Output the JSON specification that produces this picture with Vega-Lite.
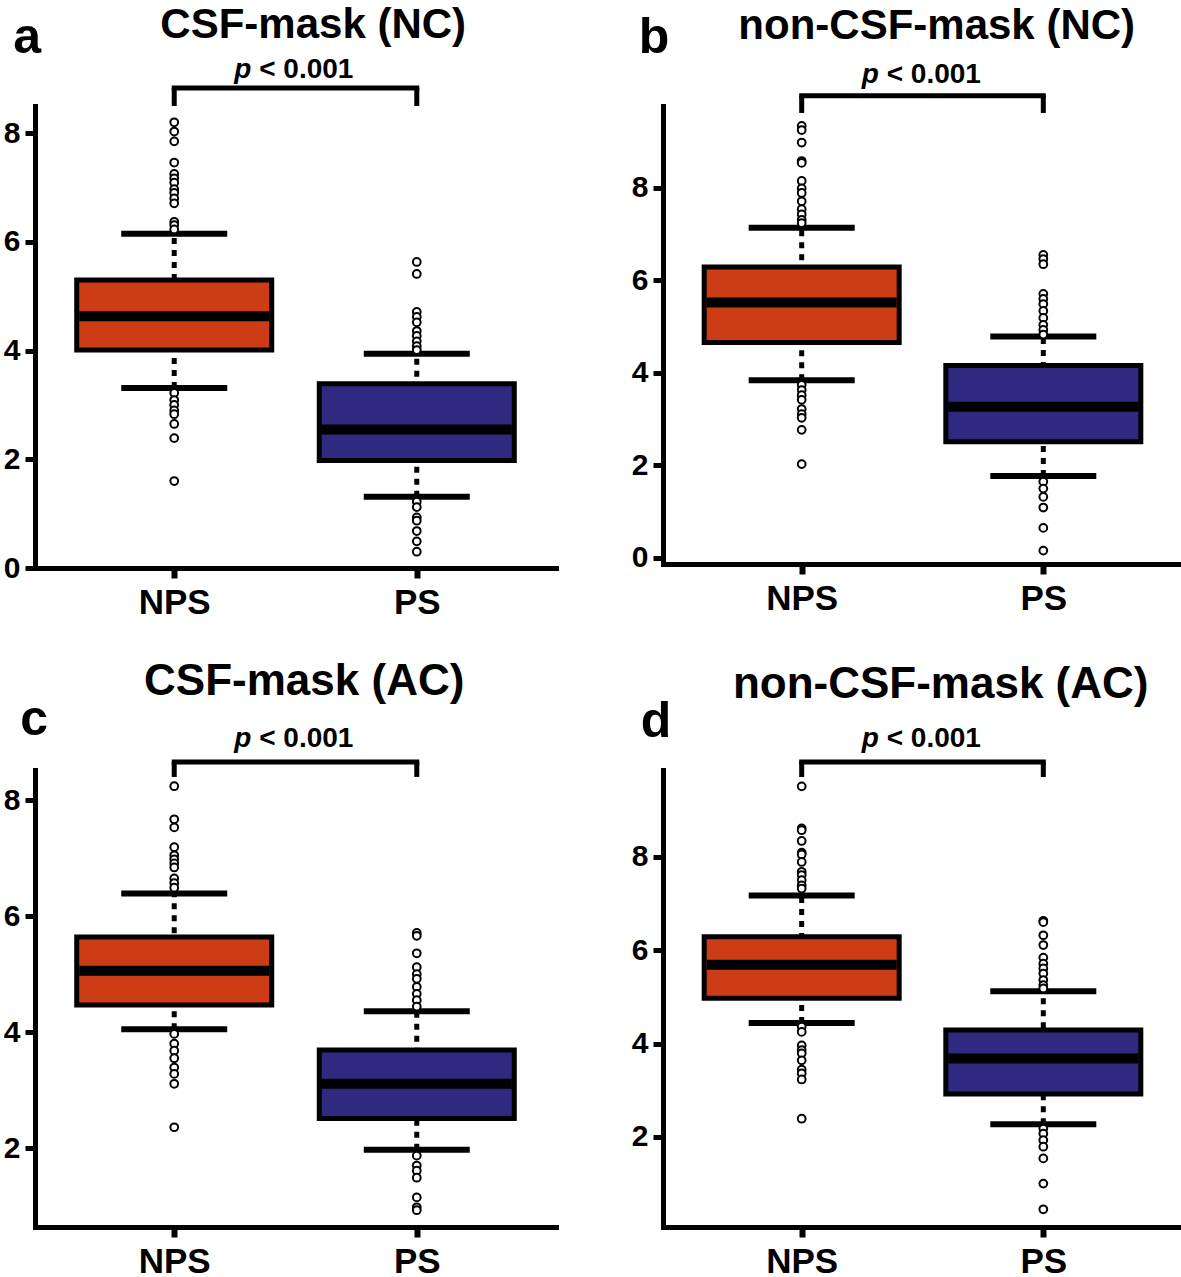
{
"$schema":"https://vega.github.io/schema/vega-lite/v6.json",
"padding":{"left":3,"top":4,"right":0,"bottom":0},
"bounds":"flush",
"columns":2,
"spacing":{"row":202,"column":107},
"datasets":{
"note":[{"label":"p < 0.001"}],
"stats":[
{"panel":"a","group":"NPS","lower":3.31,"q1":4.01,"median":4.63,"q3":5.30,"upper":6.15},
{"panel":"a","group":"PS","lower":1.31,"q1":1.98,"median":2.55,"q3":3.39,"upper":3.94},
{"panel":"b","group":"NPS","lower":3.84,"q1":4.66,"median":5.52,"q3":6.29,"upper":7.14},
{"panel":"b","group":"PS","lower":1.77,"q1":2.51,"median":3.27,"q3":4.16,"upper":4.79},
{"panel":"c","group":"NPS","lower":4.05,"q1":4.47,"median":5.06,"q3":5.64,"upper":6.39},
{"panel":"c","group":"PS","lower":1.97,"q1":2.51,"median":3.11,"q3":3.69,"upper":4.36},
{"panel":"d","group":"NPS","lower":4.44,"q1":4.97,"median":5.69,"q3":6.29,"upper":7.17},
{"panel":"d","group":"PS","lower":2.27,"q1":2.92,"median":3.68,"q3":4.29,"upper":5.12}
],
"outliers":[
{"panel":"a","group":"NPS","value":8.20},{"panel":"a","group":"NPS","value":8.03},{"panel":"a","group":"NPS","value":7.85},{"panel":"a","group":"NPS","value":7.46},{"panel":"a","group":"NPS","value":7.25},{"panel":"a","group":"NPS","value":7.17},{"panel":"a","group":"NPS","value":7.09},{"panel":"a","group":"NPS","value":6.97},{"panel":"a","group":"NPS","value":6.90},{"panel":"a","group":"NPS","value":6.80},{"panel":"a","group":"NPS","value":6.71},{"panel":"a","group":"NPS","value":6.37},{"panel":"a","group":"NPS","value":6.31},{"panel":"a","group":"NPS","value":6.23},{"panel":"a","group":"NPS","value":3.22},{"panel":"a","group":"NPS","value":3.09},{"panel":"a","group":"NPS","value":3.00},{"panel":"a","group":"NPS","value":2.90},{"panel":"a","group":"NPS","value":2.83},{"panel":"a","group":"NPS","value":2.65},{"panel":"a","group":"NPS","value":2.39},{"panel":"a","group":"NPS","value":1.60},
{"panel":"a","group":"PS","value":5.63},{"panel":"a","group":"PS","value":5.41},{"panel":"a","group":"PS","value":4.71},{"panel":"a","group":"PS","value":4.62},{"panel":"a","group":"PS","value":4.52},{"panel":"a","group":"PS","value":4.36},{"panel":"a","group":"PS","value":4.27},{"panel":"a","group":"PS","value":4.17},{"panel":"a","group":"PS","value":4.08},{"panel":"a","group":"PS","value":4.01},{"panel":"a","group":"PS","value":1.22},{"panel":"a","group":"PS","value":1.12},{"panel":"a","group":"PS","value":0.93},{"panel":"a","group":"PS","value":0.87},{"panel":"a","group":"PS","value":0.68},{"panel":"a","group":"PS","value":0.49},{"panel":"a","group":"PS","value":0.30},
{"panel":"b","group":"NPS","value":9.34},{"panel":"b","group":"NPS","value":9.25},{"panel":"b","group":"NPS","value":8.98},{"panel":"b","group":"NPS","value":8.58},{"panel":"b","group":"NPS","value":8.54},{"panel":"b","group":"NPS","value":8.15},{"panel":"b","group":"NPS","value":7.99},{"panel":"b","group":"NPS","value":7.89},{"panel":"b","group":"NPS","value":7.71},{"panel":"b","group":"NPS","value":7.54},{"panel":"b","group":"NPS","value":7.43},{"panel":"b","group":"NPS","value":7.31},{"panel":"b","group":"NPS","value":7.24},{"panel":"b","group":"NPS","value":3.74},{"panel":"b","group":"NPS","value":3.63},{"panel":"b","group":"NPS","value":3.52},{"panel":"b","group":"NPS","value":3.42},{"panel":"b","group":"NPS","value":3.22},{"panel":"b","group":"NPS","value":3.11},{"panel":"b","group":"NPS","value":3.03},{"panel":"b","group":"NPS","value":2.77},{"panel":"b","group":"NPS","value":2.03},
{"panel":"b","group":"PS","value":6.55},{"panel":"b","group":"PS","value":6.46},{"panel":"b","group":"PS","value":6.35},{"panel":"b","group":"PS","value":5.71},{"panel":"b","group":"PS","value":5.60},{"panel":"b","group":"PS","value":5.49},{"panel":"b","group":"PS","value":5.34},{"panel":"b","group":"PS","value":5.19},{"panel":"b","group":"PS","value":5.04},{"panel":"b","group":"PS","value":4.93},{"panel":"b","group":"PS","value":4.83},{"panel":"b","group":"PS","value":1.65},{"panel":"b","group":"PS","value":1.50},{"panel":"b","group":"PS","value":1.32},{"panel":"b","group":"PS","value":1.09},{"panel":"b","group":"PS","value":0.65},{"panel":"b","group":"PS","value":0.16},
{"panel":"c","group":"NPS","value":8.24},{"panel":"c","group":"NPS","value":7.67},{"panel":"c","group":"NPS","value":7.53},{"panel":"c","group":"NPS","value":7.19},{"panel":"c","group":"NPS","value":7.05},{"panel":"c","group":"NPS","value":6.98},{"panel":"c","group":"NPS","value":6.91},{"panel":"c","group":"NPS","value":6.84},{"panel":"c","group":"NPS","value":6.65},{"panel":"c","group":"NPS","value":6.57},{"panel":"c","group":"NPS","value":6.49},{"panel":"c","group":"NPS","value":3.97},{"panel":"c","group":"NPS","value":3.80},{"panel":"c","group":"NPS","value":3.68},{"panel":"c","group":"NPS","value":3.55},{"panel":"c","group":"NPS","value":3.39},{"panel":"c","group":"NPS","value":3.28},{"panel":"c","group":"NPS","value":3.11},{"panel":"c","group":"NPS","value":2.36},
{"panel":"c","group":"PS","value":5.71},{"panel":"c","group":"PS","value":5.66},{"panel":"c","group":"PS","value":5.36},{"panel":"c","group":"PS","value":5.12},{"panel":"c","group":"PS","value":5.00},{"panel":"c","group":"PS","value":4.92},{"panel":"c","group":"PS","value":4.78},{"panel":"c","group":"PS","value":4.66},{"panel":"c","group":"PS","value":4.55},{"panel":"c","group":"PS","value":4.44},{"panel":"c","group":"PS","value":1.87},{"panel":"c","group":"PS","value":1.70},{"panel":"c","group":"PS","value":1.61},{"panel":"c","group":"PS","value":1.49},{"panel":"c","group":"PS","value":1.15},{"panel":"c","group":"PS","value":0.98},{"panel":"c","group":"PS","value":0.93},
{"panel":"d","group":"NPS","value":9.51},{"panel":"d","group":"NPS","value":8.61},{"panel":"d","group":"NPS","value":8.57},{"panel":"d","group":"NPS","value":8.34},{"panel":"d","group":"NPS","value":8.09},{"panel":"d","group":"NPS","value":8.05},{"panel":"d","group":"NPS","value":7.89},{"panel":"d","group":"NPS","value":7.68},{"panel":"d","group":"NPS","value":7.61},{"panel":"d","group":"NPS","value":7.50},{"panel":"d","group":"NPS","value":7.39},{"panel":"d","group":"NPS","value":7.32},{"panel":"d","group":"NPS","value":4.36},{"panel":"d","group":"NPS","value":4.25},{"panel":"d","group":"NPS","value":3.96},{"panel":"d","group":"NPS","value":3.86},{"panel":"d","group":"NPS","value":3.79},{"panel":"d","group":"NPS","value":3.64},{"panel":"d","group":"NPS","value":3.44},{"panel":"d","group":"NPS","value":3.36},{"panel":"d","group":"NPS","value":3.23},{"panel":"d","group":"NPS","value":2.39},
{"panel":"d","group":"PS","value":6.63},{"panel":"d","group":"PS","value":6.60},{"panel":"d","group":"PS","value":6.32},{"panel":"d","group":"PS","value":6.11},{"panel":"d","group":"PS","value":5.84},{"panel":"d","group":"PS","value":5.71},{"panel":"d","group":"PS","value":5.61},{"panel":"d","group":"PS","value":5.50},{"panel":"d","group":"PS","value":5.36},{"panel":"d","group":"PS","value":5.25},{"panel":"d","group":"PS","value":5.18},{"panel":"d","group":"PS","value":2.18},{"panel":"d","group":"PS","value":2.07},{"panel":"d","group":"PS","value":1.93},{"panel":"d","group":"PS","value":1.79},{"panel":"d","group":"PS","value":1.54},{"panel":"d","group":"PS","value":1.00},{"panel":"d","group":"PS","value":0.45}
]
},
"concat":[
{"width":521,"height":462,
"encoding":{"x":{"field":"group","type":"nominal","scale":{"type":"point","domain":["NPS","PS"]},"axis":{"title":null}}},
"layer":[
{"data":{"name":"stats"},"transform":[{"filter":"datum.panel==='a'"}],"mark":{"type":"rule","color":"black","strokeWidth":5,"strokeDash":[6,6]},"encoding":{"y":{"field":"lower","type":"quantitative","scale":{"domain":[0,8.5],"nice":false,"zero":false},"axis":{"title":null,"values":[0,2,4,6,8]}},"y2":{"field":"upper"}}},
{"data":{"name":"stats"},"transform":[{"filter":"datum.panel==='a'"}],"mark":{"type":"tick","color":"black","size":106,"thickness":6,"opacity":1},"encoding":{"y":{"field":"lower","type":"quantitative","scale":{"domain":[0,8.5],"nice":false,"zero":false},"axis":{"title":null,"values":[0,2,4,6,8]}}}},
{"data":{"name":"stats"},"transform":[{"filter":"datum.panel==='a'"}],"mark":{"type":"tick","color":"black","size":106,"thickness":6,"opacity":1},"encoding":{"y":{"field":"upper","type":"quantitative","scale":{"domain":[0,8.5],"nice":false,"zero":false},"axis":{"title":null,"values":[0,2,4,6,8]}}}},
{"data":{"name":"stats"},"transform":[{"filter":"datum.panel==='a'"}],"mark":{"type":"bar","width":195,"stroke":"black","strokeWidth":5},"encoding":{"y":{"field":"q1","type":"quantitative","scale":{"domain":[0,8.5],"nice":false,"zero":false},"axis":{"title":null,"values":[0,2,4,6,8]}},"y2":{"field":"q3"},"color":{"field":"group","type":"nominal","scale":{"domain":["NPS","PS"],"range":["#CD3D15","#2F2A80"]},"legend":null}}},
{"data":{"name":"stats"},"transform":[{"filter":"datum.panel==='a'"}],"mark":{"type":"tick","color":"black","size":190,"thickness":10,"opacity":1},"encoding":{"y":{"field":"median","type":"quantitative","scale":{"domain":[0,8.5],"nice":false,"zero":false},"axis":{"title":null,"values":[0,2,4,6,8]}}}},
{"data":{"name":"outliers"},"transform":[{"filter":"datum.panel==='a'"}],"mark":{"type":"point","shape":"circle","size":60,"fill":"white","stroke":"black","strokeWidth":2,"opacity":1},"encoding":{"y":{"field":"value","type":"quantitative","scale":{"domain":[0,8.5],"nice":false,"zero":false},"axis":{"title":null,"values":[0,2,4,6,8]}}}},
{"data":{"name":"note"},"mark":{"type":"rule","color":"black","strokeWidth":5,"strokeCap":"square"},"encoding":{"x":{"datum":"NPS","type":"nominal"},"x2":{"datum":"PS"},"y":{"datum":8.83,"type":"quantitative","scale":{"domain":[0,8.5],"nice":false,"zero":false},"axis":{"title":null,"values":[0,2,4,6,8]}}}},
{"data":{"name":"note"},"mark":{"type":"rule","color":"black","strokeWidth":5},"encoding":{"x":{"datum":"NPS","type":"nominal"},"y":{"datum":8.83,"type":"quantitative","scale":{"domain":[0,8.5],"nice":false,"zero":false},"axis":{"title":null,"values":[0,2,4,6,8]}},"y2":{"datum":8.5}}},
{"data":{"name":"note"},"mark":{"type":"rule","color":"black","strokeWidth":5},"encoding":{"x":{"datum":"PS","type":"nominal"},"y":{"datum":8.83,"type":"quantitative","scale":{"domain":[0,8.5],"nice":false,"zero":false},"axis":{"title":null,"values":[0,2,4,6,8]}},"y2":{"datum":8.5}}},
{"data":{"name":"note"},"mark":{"type":"text","text":"p","fontSize":28,"fontWeight":"bold","fontStyle":"italic","align":"left","baseline":"alphabetic","dx":60,"color":"black"},"encoding":{"x":{"datum":"NPS","type":"nominal"},"y":{"datum":9.01,"type":"quantitative","scale":{"domain":[0,8.5],"nice":false,"zero":false},"axis":{"title":null,"values":[0,2,4,6,8]}}}},
{"data":{"name":"note"},"mark":{"type":"text","text":"< 0.001","fontSize":28,"fontWeight":"bold","align":"left","baseline":"alphabetic","dx":85,"color":"black"},"encoding":{"x":{"datum":"NPS","type":"nominal"},"y":{"datum":9.01,"type":"quantitative","scale":{"domain":[0,8.5],"nice":false,"zero":false},"axis":{"title":null,"values":[0,2,4,6,8]}}}},
{"data":{"name":"note"},"mark":{"type":"text","text":"CSF-mask (NC)","fontSize":42,"fontWeight":"bold","align":"center","baseline":"alphabetic","dx":139,"color":"black"},"encoding":{"x":{"datum":"NPS","type":"nominal"},"y":{"datum":9.75,"type":"quantitative","scale":{"domain":[0,8.5],"nice":false,"zero":false},"axis":{"title":null,"values":[0,2,4,6,8]}}}},
{"data":{"name":"note"},"mark":{"type":"text","text":"a","fontSize":50,"fontWeight":"bold","align":"left","baseline":"alphabetic","dx":-161,"color":"black"},"encoding":{"x":{"datum":"NPS","type":"nominal"},"y":{"datum":9.47,"type":"quantitative","scale":{"domain":[0,8.5],"nice":false,"zero":false},"axis":{"title":null,"values":[0,2,4,6,8]}}}}
]},
{"width":519,"height":458,
"encoding":{"x":{"field":"group","type":"nominal","scale":{"type":"point","domain":["NPS","PS"]},"axis":{"title":null}}},
"layer":[
{"data":{"name":"stats"},"transform":[{"filter":"datum.panel==='b'"}],"mark":{"type":"rule","color":"black","strokeWidth":5,"strokeDash":[6,6]},"encoding":{"y":{"field":"lower","type":"quantitative","scale":{"domain":[-0.13,9.77],"nice":false,"zero":false},"axis":{"title":null,"values":[0,2,4,6,8]}},"y2":{"field":"upper"}}},
{"data":{"name":"stats"},"transform":[{"filter":"datum.panel==='b'"}],"mark":{"type":"tick","color":"black","size":106,"thickness":6,"opacity":1},"encoding":{"y":{"field":"lower","type":"quantitative","scale":{"domain":[-0.13,9.77],"nice":false,"zero":false},"axis":{"title":null,"values":[0,2,4,6,8]}}}},
{"data":{"name":"stats"},"transform":[{"filter":"datum.panel==='b'"}],"mark":{"type":"tick","color":"black","size":106,"thickness":6,"opacity":1},"encoding":{"y":{"field":"upper","type":"quantitative","scale":{"domain":[-0.13,9.77],"nice":false,"zero":false},"axis":{"title":null,"values":[0,2,4,6,8]}}}},
{"data":{"name":"stats"},"transform":[{"filter":"datum.panel==='b'"}],"mark":{"type":"bar","width":195,"stroke":"black","strokeWidth":5},"encoding":{"y":{"field":"q1","type":"quantitative","scale":{"domain":[-0.13,9.77],"nice":false,"zero":false},"axis":{"title":null,"values":[0,2,4,6,8]}},"y2":{"field":"q3"},"color":{"field":"group","type":"nominal","scale":{"domain":["NPS","PS"],"range":["#CD3D15","#2F2A80"]},"legend":null}}},
{"data":{"name":"stats"},"transform":[{"filter":"datum.panel==='b'"}],"mark":{"type":"tick","color":"black","size":190,"thickness":10,"opacity":1},"encoding":{"y":{"field":"median","type":"quantitative","scale":{"domain":[-0.13,9.77],"nice":false,"zero":false},"axis":{"title":null,"values":[0,2,4,6,8]}}}},
{"data":{"name":"outliers"},"transform":[{"filter":"datum.panel==='b'"}],"mark":{"type":"point","shape":"circle","size":60,"fill":"white","stroke":"black","strokeWidth":2,"opacity":1},"encoding":{"y":{"field":"value","type":"quantitative","scale":{"domain":[-0.13,9.77],"nice":false,"zero":false},"axis":{"title":null,"values":[0,2,4,6,8]}}}},
{"data":{"name":"note"},"mark":{"type":"rule","color":"black","strokeWidth":5,"strokeCap":"square"},"encoding":{"x":{"datum":"NPS","type":"nominal"},"x2":{"datum":"PS"},"y":{"datum":9.99,"type":"quantitative","scale":{"domain":[-0.13,9.77],"nice":false,"zero":false},"axis":{"title":null,"values":[0,2,4,6,8]}}}},
{"data":{"name":"note"},"mark":{"type":"rule","color":"black","strokeWidth":5},"encoding":{"x":{"datum":"NPS","type":"nominal"},"y":{"datum":9.99,"type":"quantitative","scale":{"domain":[-0.13,9.77],"nice":false,"zero":false},"axis":{"title":null,"values":[0,2,4,6,8]}},"y2":{"datum":9.62}}},
{"data":{"name":"note"},"mark":{"type":"rule","color":"black","strokeWidth":5},"encoding":{"x":{"datum":"PS","type":"nominal"},"y":{"datum":9.99,"type":"quantitative","scale":{"domain":[-0.13,9.77],"nice":false,"zero":false},"axis":{"title":null,"values":[0,2,4,6,8]}},"y2":{"datum":9.62}}},
{"data":{"name":"note"},"mark":{"type":"text","text":"p","fontSize":28,"fontWeight":"bold","fontStyle":"italic","align":"left","baseline":"alphabetic","dx":60,"color":"black"},"encoding":{"x":{"datum":"NPS","type":"nominal"},"y":{"datum":10.27,"type":"quantitative","scale":{"domain":[-0.13,9.77],"nice":false,"zero":false},"axis":{"title":null,"values":[0,2,4,6,8]}}}},
{"data":{"name":"note"},"mark":{"type":"text","text":"< 0.001","fontSize":28,"fontWeight":"bold","align":"left","baseline":"alphabetic","dx":85,"color":"black"},"encoding":{"x":{"datum":"NPS","type":"nominal"},"y":{"datum":10.27,"type":"quantitative","scale":{"domain":[-0.13,9.77],"nice":false,"zero":false},"axis":{"title":null,"values":[0,2,4,6,8]}}}},
{"data":{"name":"note"},"mark":{"type":"text","text":"non-CSF-mask (NC)","fontSize":42,"fontWeight":"bold","align":"center","baseline":"alphabetic","dx":135,"color":"black"},"encoding":{"x":{"datum":"NPS","type":"nominal"},"y":{"datum":11.22,"type":"quantitative","scale":{"domain":[-0.13,9.77],"nice":false,"zero":false},"axis":{"title":null,"values":[0,2,4,6,8]}}}},
{"data":{"name":"note"},"mark":{"type":"text","text":"b","fontSize":50,"fontWeight":"bold","align":"left","baseline":"alphabetic","dx":-163,"color":"black"},"encoding":{"x":{"datum":"NPS","type":"nominal"},"y":{"datum":10.92,"type":"quantitative","scale":{"domain":[-0.13,9.77],"nice":false,"zero":false},"axis":{"title":null,"values":[0,2,4,6,8]}}}}
]},
{"width":521,"height":457,
"encoding":{"x":{"field":"group","type":"nominal","scale":{"type":"point","domain":["NPS","PS"]},"axis":{"title":null}}},
"layer":[
{"data":{"name":"stats"},"transform":[{"filter":"datum.panel==='c'"}],"mark":{"type":"rule","color":"black","strokeWidth":5,"strokeDash":[6,6]},"encoding":{"y":{"field":"lower","type":"quantitative","scale":{"domain":[0.64,8.52],"nice":false,"zero":false},"axis":{"title":null,"values":[0,2,4,6,8]}},"y2":{"field":"upper"}}},
{"data":{"name":"stats"},"transform":[{"filter":"datum.panel==='c'"}],"mark":{"type":"tick","color":"black","size":106,"thickness":6,"opacity":1},"encoding":{"y":{"field":"lower","type":"quantitative","scale":{"domain":[0.64,8.52],"nice":false,"zero":false},"axis":{"title":null,"values":[0,2,4,6,8]}}}},
{"data":{"name":"stats"},"transform":[{"filter":"datum.panel==='c'"}],"mark":{"type":"tick","color":"black","size":106,"thickness":6,"opacity":1},"encoding":{"y":{"field":"upper","type":"quantitative","scale":{"domain":[0.64,8.52],"nice":false,"zero":false},"axis":{"title":null,"values":[0,2,4,6,8]}}}},
{"data":{"name":"stats"},"transform":[{"filter":"datum.panel==='c'"}],"mark":{"type":"bar","width":195,"stroke":"black","strokeWidth":5},"encoding":{"y":{"field":"q1","type":"quantitative","scale":{"domain":[0.64,8.52],"nice":false,"zero":false},"axis":{"title":null,"values":[0,2,4,6,8]}},"y2":{"field":"q3"},"color":{"field":"group","type":"nominal","scale":{"domain":["NPS","PS"],"range":["#CD3D15","#2F2A80"]},"legend":null}}},
{"data":{"name":"stats"},"transform":[{"filter":"datum.panel==='c'"}],"mark":{"type":"tick","color":"black","size":190,"thickness":10,"opacity":1},"encoding":{"y":{"field":"median","type":"quantitative","scale":{"domain":[0.64,8.52],"nice":false,"zero":false},"axis":{"title":null,"values":[0,2,4,6,8]}}}},
{"data":{"name":"outliers"},"transform":[{"filter":"datum.panel==='c'"}],"mark":{"type":"point","shape":"circle","size":60,"fill":"white","stroke":"black","strokeWidth":2,"opacity":1},"encoding":{"y":{"field":"value","type":"quantitative","scale":{"domain":[0.64,8.52],"nice":false,"zero":false},"axis":{"title":null,"values":[0,2,4,6,8]}}}},
{"data":{"name":"note"},"mark":{"type":"rule","color":"black","strokeWidth":5,"strokeCap":"square"},"encoding":{"x":{"datum":"NPS","type":"nominal"},"x2":{"datum":"PS"},"y":{"datum":8.66,"type":"quantitative","scale":{"domain":[0.64,8.52],"nice":false,"zero":false},"axis":{"title":null,"values":[0,2,4,6,8]}}}},
{"data":{"name":"note"},"mark":{"type":"rule","color":"black","strokeWidth":5},"encoding":{"x":{"datum":"NPS","type":"nominal"},"y":{"datum":8.66,"type":"quantitative","scale":{"domain":[0.64,8.52],"nice":false,"zero":false},"axis":{"title":null,"values":[0,2,4,6,8]}},"y2":{"datum":8.40}}},
{"data":{"name":"note"},"mark":{"type":"rule","color":"black","strokeWidth":5},"encoding":{"x":{"datum":"PS","type":"nominal"},"y":{"datum":8.66,"type":"quantitative","scale":{"domain":[0.64,8.52],"nice":false,"zero":false},"axis":{"title":null,"values":[0,2,4,6,8]}},"y2":{"datum":8.40}}},
{"data":{"name":"note"},"mark":{"type":"text","text":"p","fontSize":28,"fontWeight":"bold","fontStyle":"italic","align":"left","baseline":"alphabetic","dx":60,"color":"black"},"encoding":{"x":{"datum":"NPS","type":"nominal"},"y":{"datum":8.92,"type":"quantitative","scale":{"domain":[0.64,8.52],"nice":false,"zero":false},"axis":{"title":null,"values":[0,2,4,6,8]}}}},
{"data":{"name":"note"},"mark":{"type":"text","text":"< 0.001","fontSize":28,"fontWeight":"bold","align":"left","baseline":"alphabetic","dx":85,"color":"black"},"encoding":{"x":{"datum":"NPS","type":"nominal"},"y":{"datum":8.92,"type":"quantitative","scale":{"domain":[0.64,8.52],"nice":false,"zero":false},"axis":{"title":null,"values":[0,2,4,6,8]}}}},
{"data":{"name":"note"},"mark":{"type":"text","text":"CSF-mask (AC)","fontSize":44,"fontWeight":"bold","align":"center","baseline":"alphabetic","dx":130,"color":"black"},"encoding":{"x":{"datum":"NPS","type":"nominal"},"y":{"datum":9.81,"type":"quantitative","scale":{"domain":[0.64,8.52],"nice":false,"zero":false},"axis":{"title":null,"values":[0,2,4,6,8]}}}},
{"data":{"name":"note"},"mark":{"type":"text","text":"c","fontSize":50,"fontWeight":"bold","align":"left","baseline":"alphabetic","dx":-154,"color":"black"},"encoding":{"x":{"datum":"NPS","type":"nominal"},"y":{"datum":9.12,"type":"quantitative","scale":{"domain":[0.64,8.52],"nice":false,"zero":false},"axis":{"title":null,"values":[0,2,4,6,8]}}}}
]},
{"width":519,"height":457,
"encoding":{"x":{"field":"group","type":"nominal","scale":{"type":"point","domain":["NPS","PS"]},"axis":{"title":null}}},
"layer":[
{"data":{"name":"stats"},"transform":[{"filter":"datum.panel==='d'"}],"mark":{"type":"rule","color":"black","strokeWidth":5,"strokeDash":[6,6]},"encoding":{"y":{"field":"lower","type":"quantitative","scale":{"domain":[0.07,9.86],"nice":false,"zero":false},"axis":{"title":null,"values":[0,2,4,6,8]}},"y2":{"field":"upper"}}},
{"data":{"name":"stats"},"transform":[{"filter":"datum.panel==='d'"}],"mark":{"type":"tick","color":"black","size":106,"thickness":6,"opacity":1},"encoding":{"y":{"field":"lower","type":"quantitative","scale":{"domain":[0.07,9.86],"nice":false,"zero":false},"axis":{"title":null,"values":[0,2,4,6,8]}}}},
{"data":{"name":"stats"},"transform":[{"filter":"datum.panel==='d'"}],"mark":{"type":"tick","color":"black","size":106,"thickness":6,"opacity":1},"encoding":{"y":{"field":"upper","type":"quantitative","scale":{"domain":[0.07,9.86],"nice":false,"zero":false},"axis":{"title":null,"values":[0,2,4,6,8]}}}},
{"data":{"name":"stats"},"transform":[{"filter":"datum.panel==='d'"}],"mark":{"type":"bar","width":195,"stroke":"black","strokeWidth":5},"encoding":{"y":{"field":"q1","type":"quantitative","scale":{"domain":[0.07,9.86],"nice":false,"zero":false},"axis":{"title":null,"values":[0,2,4,6,8]}},"y2":{"field":"q3"},"color":{"field":"group","type":"nominal","scale":{"domain":["NPS","PS"],"range":["#CD3D15","#2F2A80"]},"legend":null}}},
{"data":{"name":"stats"},"transform":[{"filter":"datum.panel==='d'"}],"mark":{"type":"tick","color":"black","size":190,"thickness":10,"opacity":1},"encoding":{"y":{"field":"median","type":"quantitative","scale":{"domain":[0.07,9.86],"nice":false,"zero":false},"axis":{"title":null,"values":[0,2,4,6,8]}}}},
{"data":{"name":"outliers"},"transform":[{"filter":"datum.panel==='d'"}],"mark":{"type":"point","shape":"circle","size":60,"fill":"white","stroke":"black","strokeWidth":2,"opacity":1},"encoding":{"y":{"field":"value","type":"quantitative","scale":{"domain":[0.07,9.86],"nice":false,"zero":false},"axis":{"title":null,"values":[0,2,4,6,8]}}}},
{"data":{"name":"note"},"mark":{"type":"rule","color":"black","strokeWidth":5,"strokeCap":"square"},"encoding":{"x":{"datum":"NPS","type":"nominal"},"x2":{"datum":"PS"},"y":{"datum":10.03,"type":"quantitative","scale":{"domain":[0.07,9.86],"nice":false,"zero":false},"axis":{"title":null,"values":[0,2,4,6,8]}}}},
{"data":{"name":"note"},"mark":{"type":"rule","color":"black","strokeWidth":5},"encoding":{"x":{"datum":"NPS","type":"nominal"},"y":{"datum":10.03,"type":"quantitative","scale":{"domain":[0.07,9.86],"nice":false,"zero":false},"axis":{"title":null,"values":[0,2,4,6,8]}},"y2":{"datum":9.71}}},
{"data":{"name":"note"},"mark":{"type":"rule","color":"black","strokeWidth":5},"encoding":{"x":{"datum":"PS","type":"nominal"},"y":{"datum":10.03,"type":"quantitative","scale":{"domain":[0.07,9.86],"nice":false,"zero":false},"axis":{"title":null,"values":[0,2,4,6,8]}},"y2":{"datum":9.71}}},
{"data":{"name":"note"},"mark":{"type":"text","text":"p","fontSize":28,"fontWeight":"bold","fontStyle":"italic","align":"left","baseline":"alphabetic","dx":60,"color":"black"},"encoding":{"x":{"datum":"NPS","type":"nominal"},"y":{"datum":10.35,"type":"quantitative","scale":{"domain":[0.07,9.86],"nice":false,"zero":false},"axis":{"title":null,"values":[0,2,4,6,8]}}}},
{"data":{"name":"note"},"mark":{"type":"text","text":"< 0.001","fontSize":28,"fontWeight":"bold","align":"left","baseline":"alphabetic","dx":85,"color":"black"},"encoding":{"x":{"datum":"NPS","type":"nominal"},"y":{"datum":10.35,"type":"quantitative","scale":{"domain":[0.07,9.86],"nice":false,"zero":false},"axis":{"title":null,"values":[0,2,4,6,8]}}}},
{"data":{"name":"note"},"mark":{"type":"text","text":"non-CSF-mask (AC)","fontSize":44,"fontWeight":"bold","align":"center","baseline":"alphabetic","dx":139,"color":"black"},"encoding":{"x":{"datum":"NPS","type":"nominal"},"y":{"datum":11.40,"type":"quantitative","scale":{"domain":[0.07,9.86],"nice":false,"zero":false},"axis":{"title":null,"values":[0,2,4,6,8]}}}},
{"data":{"name":"note"},"mark":{"type":"text","text":"d","fontSize":50,"fontWeight":"bold","align":"left","baseline":"alphabetic","dx":-161,"color":"black"},"encoding":{"x":{"datum":"NPS","type":"nominal"},"y":{"datum":10.57,"type":"quantitative","scale":{"domain":[0.07,9.86],"nice":false,"zero":false},"axis":{"title":null,"values":[0,2,4,6,8]}}}}
]}
],
"config":{
"font":"Liberation Sans",
"view":{"stroke":null},
"scale":{"pointPadding":0.574},
"axis":{"domainColor":"black","domainWidth":5,"domainCap":"square","tickColor":"black","tickWidth":5,"tickSize":10,"labelColor":"black","labelFontWeight":"bold","labelFont":"Liberation Sans","grid":false},
"axisX":{"labelFontSize":35,"labelPadding":7,"labelAngle":0,"tickWidth":6},
"axisY":{"labelFontSize":30,"labelPadding":5}
}
}
